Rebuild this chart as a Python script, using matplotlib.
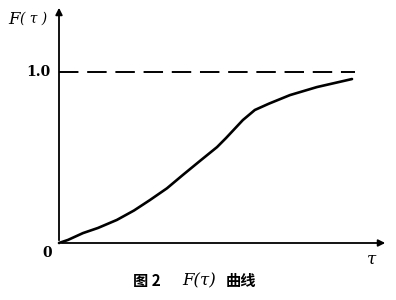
import matplotlib.pyplot as plt

# F(tau) curve (tau in arbitrary units)
tau = [0.0, 0.3, 0.8, 1.3, 1.93, 2.5, 3.03, 3.6, 4.13, 4.7, 5.27, 5.57, 6.13, 6.53, 7.0, 7.7, 8.6, 9.77]
F = [0.0, 0.018, 0.058, 0.088, 0.135, 0.19, 0.251, 0.32, 0.398, 0.48, 0.561, 0.614, 0.719, 0.778, 0.815, 0.865, 0.912, 0.959]
limit = 1.0
tau_max = 10.97
F_max = 1.392

fig = plt.figure(figsize=(3.96, 3.0), dpi=100)
ax = fig.add_axes([59/396, 57/300, 329/396, 238/300])
ax.set_xlim(0, tau_max)
ax.set_ylim(0, F_max)
ax.axis('off')

# axes with arrows
ax.annotate('', xy=(tau_max, 0), xytext=(0, 0),
            arrowprops=dict(arrowstyle='-|>', color='black', lw=1.3, mutation_scale=10),
            annotation_clip=False)
ax.annotate('', xy=(0, F_max), xytext=(0, 0),
            arrowprops=dict(arrowstyle='-|>', color='black', lw=1.3, mutation_scale=10),
            annotation_clip=False)

ax.plot([0, 9.87], [limit, limit], color='black', lw=1.4, dashes=(10, 4.5), clip_on=False)
ax.plot(tau, F, color='black', lw=1.9, solid_capstyle='round', solid_joinstyle='round', clip_on=False)

serif = 'DejaVu Serif'
fig.text(8/396, 1 - 19/300, 'F', fontsize=12, family=serif, style='italic', va='center', ha='left')
fig.text(20/396, 1 - 19/300, '( τ )', fontsize=10, family=serif, style='italic', va='center', ha='left')
fig.text(51/396, 1 - 72/300, '1.0', fontsize=10, family=serif, weight='bold', va='center', ha='right')
fig.text(47/396, 1 - 253/300, '0', fontsize=10, family=serif, weight='bold', va='center', ha='center')
fig.text(372/396, 1 - 259/300, 'τ', fontsize=12, family=serif, style='italic', va='center', ha='center')

cy = 1 - 281/300
cjk = ['Noto Sans CJK SC', 'DejaVu Sans']
fig.text(133/396, cy, '图 2', fontsize=11, family=cjk, weight='bold', va='center', ha='left')
fig.text(182/396, cy, 'F(τ)', fontsize=12, family=serif, style='italic', va='center', ha='left')
fig.text(226/396, cy, '曲线', fontsize=11, family=cjk, weight='bold', va='center', ha='left')

fig.savefig('out.png', dpi=100)
